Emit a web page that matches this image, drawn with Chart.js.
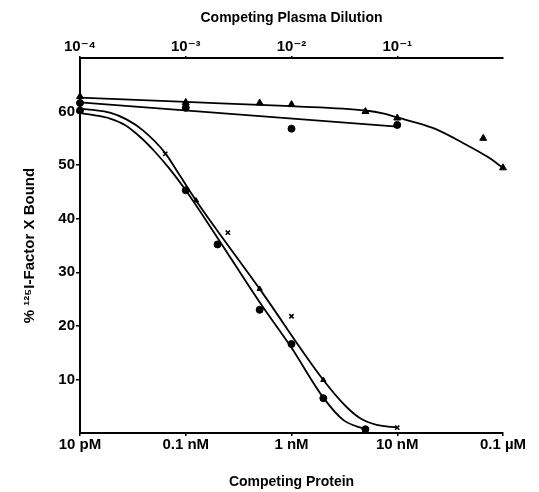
<!DOCTYPE html>
<html><head><meta charset="utf-8">
<script src="https://cdn.jsdelivr.net/npm/chart.js@4"></script>
<style>html,body{margin:0;padding:0;background:#fff}#wrap{width:539px;height:492px;position:relative}</style>
</head><body><div id="wrap"><canvas id="c"></canvas></div>
<script>
// Axis ticks
const proteinTicks = [1e-11, 1e-10, 1e-9, 1e-8, 1e-7];
const proteinTickLabels = ['10 pM', '0.1 nM', '1 nM', '10 nM', '0.1 \u00B5M'];
const plasmaTicks = [1e-4, 1e-3, 1e-2, 1e-1];
const plasmaTickLabels = ['10\u207B\u2074', '10\u207B\u00B3', '10\u207B\u00B2', '10\u207B\u00B9'];
const yTicks = [10, 20, 30, 40, 50, 60];

// Plasma dilution (top axis): fitted curve and triangles
const plasmaFitX = [1e-4, 1e-3, 1e-2, 5e-2, 0.075, 0.1, 0.22, 0.45, 0.72, 1];
const plasmaFitY = [62.6, 61.8, 61.0, 60.2, 59.6, 58.9, 56.9, 53.8, 51.5, 49.5];
const plasmaPtsX = [1e-4, 1e-3, 5e-3, 1e-2, 5e-2, 0.1, 0.65, 1];
const plasmaPtsY = [62.8, 61.7, 61.6, 61.3, 60.0, 58.8, 55.0, 49.5];

// Second plasma line with circles (top axis)
const lineBX = [1e-4, 0.1];
const lineBY = [61.7, 57.2];
const circlesBX = [1e-4, 1e-3, 1e-2, 0.1];
const circlesBY = [61.6, 60.7, 56.8, 57.5];

// Competing protein (bottom axis), curve with circles
const curveCX = [1e-11, 1.39e-11, 1.92e-11, 2.66e-11, 3.69e-11, 5.11e-11, 7.1e-11, 1e-10, 2e-10, 5e-10, 1e-9, 2e-9, 3.1e-9, 5e-9];
const curveCY = [59.7, 59.3, 58.7, 57.5, 55.3, 52.5, 49.2, 45.3, 36.4, 24.4, 15.9, 6.6, 2.4, 0.7];
const circlesCX = [1e-11, 1e-10, 2e-10, 5e-10, 1e-9, 2e-9, 5e-9];
const circlesCY = [60.2, 45.3, 35.2, 23.0, 16.6, 6.5, 0.7];

// Competing protein (bottom axis), curve with crosses and small triangles
const curveDX = [1e-11, 1.33e-11, 1.92e-11, 2.78e-11, 3.94e-11, 6.37e-11, 8.83e-11, 1.25e-10, 5e-10, 2e-9, 3.3e-9, 4.5e-9, 6.4e-9, 1e-8];
const curveDY = [60.5, 60.3, 59.8, 58.5, 56.5, 52.3, 48.0, 43.4, 26.9, 9.9, 4.9, 2.7, 1.5, 1.0];
const crossesX = [6.4e-11, 2.5e-10, 1e-9, 1e-8];
const crossesY = [52.1, 37.4, 21.8, 1.0];
const smallTriX = [1.25e-10, 5e-10, 2e-9];
const smallTriY = [43.4, 26.9, 9.9];

const pts = (xs, ys) => xs.map((x, i) => ({x: x, y: ys[i]}));
const FONT = '"Liberation Sans", "DejaVu Sans", Arial, sans-serif';
const lineDs = (label, xs, ys, axis) => ({label, data: pts(xs, ys), xAxisID: axis, showLine: true,
  borderColor: '#000', borderWidth: 1.8, pointRadius: 0, cubicInterpolationMode: 'monotone', fill: false, clip: false});
const markDs = (label, xs, ys, axis, style, r) => ({label, data: pts(xs, ys), xAxisID: axis, showLine: false,
  pointStyle: style, pointRadius: r, backgroundColor: '#000', borderColor: '#000', clip: false,
  borderWidth: style === 'crossRot' ? 1.6 : 1});

new Chart(document.getElementById('c'), {
  type: 'scatter',
  data: {datasets: [
    lineDs('Plasma fit', plasmaFitX, plasmaFitY, 'x2'),
    lineDs('Plasma line B', lineBX, lineBY, 'x2'),
    lineDs('Protein curve C', curveCX, curveCY, 'x'),
    lineDs('Protein curve D', curveDX, curveDY, 'x'),
    markDs('Plasma', plasmaPtsX, plasmaPtsY, 'x2', 'triangle', 4),
    markDs('Plasma B', circlesBX, circlesBY, 'x2', 'circle', 3.5),
    markDs('Protein C', circlesCX, circlesCY, 'x', 'circle', 3.5),
    markDs('Protein D x', crossesX, crossesY, 'x', 'crossRot', 3),
    markDs('Protein D tri', smallTriX, smallTriY, 'x', 'triangle', 3)
  ]},
  options: {
    responsive: true, maintainAspectRatio: false, animation: false,
    layout: {padding: {right: 36}},
    plugins: {legend: {display: false}, tooltip: {enabled: false}},
    scales: {
      x: {
        type: 'logarithmic', position: 'bottom', min: 1e-11, max: 1e-7,
        afterBuildTicks: s => { s.ticks = proteinTicks.map(v => ({value: v})); },
        afterFit: s => { s.height = 59; },
        ticks: {callback: (v, i) => proteinTickLabels[i], font: {family: FONT, size: 15, weight: 'bold'},
          color: '#000', padding: 0, maxRotation: 0, autoSkip: false},
        grid: {drawOnChartArea: false, drawTicks: true, tickLength: 3, color: '#000', lineWidth: 1.5},
        border: {display: true, color: '#000', width: 2},
        title: {display: true, text: 'Competing Protein', color: '#000',
          font: {family: FONT, size: 14, weight: 'bold'}, padding: {top: 0, bottom: 1}}
      },
      x2: {
        type: 'logarithmic', position: 'top', min: 1e-4, max: 1,
        afterBuildTicks: s => { s.ticks = plasmaTicks.map(v => ({value: v})); },
        afterFit: s => { s.height = 58; },
        ticks: {callback: (v, i) => plasmaTickLabels[i], font: {family: FONT, size: 15, weight: 'bold'},
          color: '#000', padding: 0, maxRotation: 0, autoSkip: false},
        grid: {drawOnChartArea: false, drawTicks: true, tickLength: 2, color: '#000', lineWidth: 1.5},
        border: {display: true, color: '#000', width: 2},
        title: {display: true, text: 'Competing Plasma Dilution', color: '#000',
          font: {family: FONT, size: 14, weight: 'bold'}, padding: {top: 10, bottom: 0}}
      },
      y: {
        type: 'linear', position: 'left', min: 0, max: 70,
        afterBuildTicks: s => { s.ticks = yTicks.map(v => ({value: v})); },
        afterFit: s => { s.width = 80; },
        ticks: {callback: v => String(v), font: {family: FONT, size: 15, weight: 'bold'}, color: '#000', padding: 1},
        grid: {drawOnChartArea: false, drawTicks: true, tickLength: 4, color: '#000', lineWidth: 1.5},
        border: {display: true, color: '#000', width: 2},
        title: {display: true, text: '% \u00B9\u00B2\u2075I-Factor X Bound', color: '#000',
          font: {family: FONT, size: 15, weight: 'bold'}, padding: {top: 21, bottom: 0}}
      }
    }
  }
});
</script></body></html>
